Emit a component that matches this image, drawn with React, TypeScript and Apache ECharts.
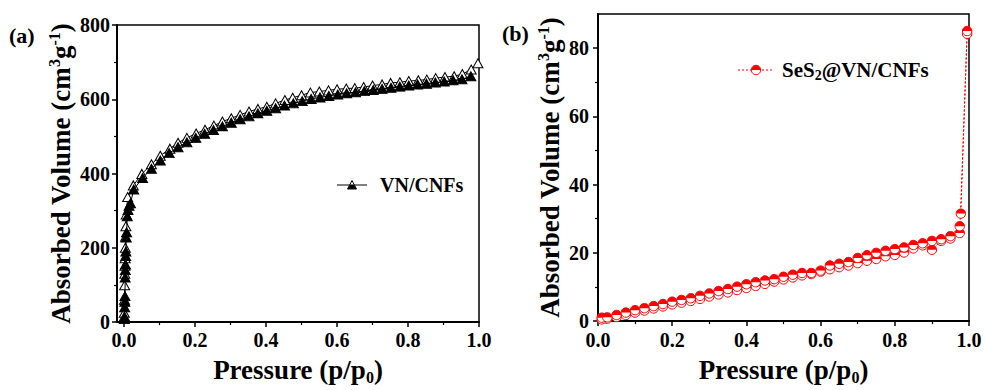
import React, { useEffect, useRef } from 'react';
import * as echarts from 'echarts';

const FONT = '"Liberation Serif", "Times New Roman", Times, serif';
const RED = '#ff0000';
const BLACK = '#000000';

// VN/CNFs isotherm, filled triangles (lower branch)
const vnAdsP = [0.0005, 0.001, 0.0015, 0.002, 0.0025, 0.003, 0.0035, 0.004, 0.0045, 0.005, 0.006, 0.007, 0.009, 0.011, 0.014, 0.018, 0.027, 0.052, 0.077, 0.102, 0.127, 0.152, 0.177, 0.202, 0.227, 0.252, 0.277, 0.302, 0.327, 0.352, 0.377, 0.402, 0.427, 0.452, 0.477, 0.502, 0.527, 0.552, 0.577, 0.602, 0.627, 0.652, 0.677, 0.702, 0.727, 0.752, 0.777, 0.802, 0.827, 0.852, 0.877, 0.902, 0.927, 0.952, 0.977];
const vnAdsV = [8, 15, 40, 55, 70, 120, 140, 155, 178, 190, 228, 242, 285, 302, 313, 320, 357, 388, 413, 435, 455, 471, 484, 496, 507, 517, 527, 537, 546, 554, 562, 569, 576, 583, 589, 595, 601, 605, 609, 613, 616, 619, 622, 625, 628, 631, 634, 637, 640, 642, 645, 648, 651, 654, 662];

// VN/CNFs isotherm, open triangles (upper branch)
const vnDesP = [0.997, 0.978, 0.953, 0.93, 0.904, 0.878, 0.853, 0.829, 0.802, 0.777, 0.751, 0.727, 0.7, 0.675, 0.65, 0.626, 0.6, 0.576, 0.55, 0.525, 0.5, 0.475, 0.453, 0.427, 0.402, 0.377, 0.352, 0.327, 0.302, 0.277, 0.253, 0.228, 0.203, 0.177, 0.152, 0.129, 0.102, 0.077, 0.05, 0.026, 0.01, 0.006, 0.005, 0.004, 0.0035, 0.003, 0.0025, 0.002, 0.0015, 0.001, 0.0005];
const vnDesV = [697, 680, 668, 662, 660, 657, 653, 651, 649, 646, 644, 640, 637, 633, 630, 629, 627, 624, 621, 618, 611, 604, 598, 589, 580, 574, 567, 558, 549, 540, 529, 518, 508, 496, 483, 467, 448, 425, 399, 368, 337, 290, 258, 230, 200, 172, 152, 130, 99, 60, 25];

// SeS2@VN/CNFs isotherm, upper branch
const sesAdsP = [0.01, 0.025, 0.05, 0.075, 0.1, 0.125, 0.15, 0.175, 0.2, 0.225, 0.25, 0.275, 0.3, 0.325, 0.35, 0.375, 0.4, 0.425, 0.45, 0.475, 0.5, 0.525, 0.55, 0.575, 0.6, 0.625, 0.65, 0.675, 0.7, 0.725, 0.75, 0.775, 0.8, 0.825, 0.85, 0.875, 0.9, 0.925, 0.95, 0.975, 0.978, 0.995];
const sesAdsV = [1.0, 1.1, 1.8, 2.5, 3.2, 3.8, 4.4, 5.0, 5.7, 6.2, 6.7, 7.4, 8.1, 8.8, 9.4, 10.1, 10.8, 11.4, 11.9, 12.3, 13.0, 13.6, 14.1, 14.1, 14.8, 16.3, 16.8, 17.3, 18.5, 19.3, 20.0, 20.6, 21.1, 21.6, 22.3, 22.8, 23.5, 24.0, 24.9, 27.8, 31.5, 85.0];

// SeS2@VN/CNFs isotherm, lower branch
const sesDesP = [0.995, 0.975, 0.95, 0.925, 0.9, 0.875, 0.85, 0.825, 0.8, 0.775, 0.75, 0.725, 0.7, 0.675, 0.65, 0.625, 0.6, 0.575, 0.55, 0.525, 0.5, 0.475, 0.45, 0.425, 0.4, 0.375, 0.35, 0.325, 0.3, 0.275, 0.25, 0.225, 0.2, 0.175, 0.15, 0.125, 0.1, 0.075, 0.05, 0.025, 0.01];
const sesDesV = [84.2, 25.8, 24.2, 23.5, 20.9, 22.2, 21.3, 20.1, 19.4, 19.0, 18.2, 17.7, 17.0, 16.3, 15.8, 15.2, 14.5, 13.8, 13.4, 12.8, 12.2, 11.6, 10.9, 10.3, 9.7, 9.1, 8.4, 7.8, 7.2, 6.5, 5.9, 5.4, 4.9, 4.3, 3.7, 3.1, 2.5, 1.8, 1.2, 0.7, 0.5];

const pressureTicks = [0, 0.2, 0.4, 0.6, 0.8, 1.0];
const pressureMinorTicks = [0.1, 0.3, 0.5, 0.7, 0.9];
const volumeTicksB = [0, 20, 40, 60, 80];
const volumeMinorTicksB = [10, 30, 50, 70];

const zip = (xs: number[], ys: number[]) => xs.map((x, i) => [x, ys[i]]);

const tickLabel = {
  color: BLACK,
  fontFamily: FONT,
  fontWeight: 'bold' as const,
  fontSize: 20,
};

const nameStyle = {
  color: BLACK,
  fontFamily: FONT,
  fontWeight: 'bold' as const,
  fontSize: 27,
  lineHeight: 30,
  rich: {
    sup: { fontFamily: FONT, fontWeight: 'bold' as const, fontSize: 16, lineHeight: 12, verticalAlign: 'top' as const, color: BLACK },
    sub: { fontFamily: FONT, fontWeight: 'bold' as const, fontSize: 16, lineHeight: 12, verticalAlign: 'bottom' as const, color: BLACK },
  },
};

const axisLine = { show: true, onZero: false, lineStyle: { color: BLACK, width: 2 } };

// Circle marker with the upper half filled
const halfCircle = (params: any, api: any) => {
  const pt = api.coord([api.value(0), api.value(1)]);
  const r = 4.7;
  return {
    type: 'group',
    children: [
      { type: 'circle', shape: { cx: pt[0], cy: pt[1], r }, style: { fill: '#ffffff', stroke: RED, lineWidth: 1 } },
      { type: 'sector', shape: { cx: pt[0], cy: pt[1], r0: 0, r, startAngle: Math.PI, endAngle: Math.PI * 2 }, style: { fill: RED } },
    ],
  };
};

export default function App() {
  const ref = useRef<HTMLDivElement>(null);

  useEffect(() => {
    if (!ref.current) return;
    const chart = echarts.init(ref.current, undefined, { renderer: 'svg' });

    const option: any = {
      animation: false,
      backgroundColor: '#ffffff',
      textStyle: { fontFamily: FONT },
      grid: [
        { left: 117, top: 25, width: 362, height: 302, show: true, borderColor: BLACK, borderWidth: 1.5 },
        { left: 598, top: 14, width: 371, height: 311, show: true, borderColor: BLACK, borderWidth: 1.5 },
      ],
      xAxis: [
        {
          gridIndex: 0, type: 'value', min: -0.02, max: 1, position: 'bottom',
          axisLine,
          axisTick: { show: true, customValues: pressureTicks, length: 5, lineStyle: { color: BLACK, width: 1.5 } },
          axisLabel: { ...tickLabel, customValues: pressureTicks, margin: 8, formatter: (v: number) => v.toFixed(1) },
          splitLine: { show: false },
          name: 'Pressure (p/p{sub|0})', nameLocation: 'middle', nameGap: 17, nameTextStyle: nameStyle,
        },
        {
          gridIndex: 0, type: 'value', min: -0.02, max: 1, position: 'bottom',
          axisLine: { show: false, onZero: false },
          axisTick: { show: true, customValues: pressureMinorTicks, length: 3, lineStyle: { color: BLACK, width: 1.2 } },
          axisLabel: { show: false },
          splitLine: { show: false },
        },
        {
          gridIndex: 1, type: 'value', min: 0, max: 1, interval: 0.2, position: 'bottom',
          axisLine,
          axisTick: { show: true, length: 5, lineStyle: { color: BLACK, width: 1.5 } },
          minorTick: { show: true, splitNumber: 2, length: 3, lineStyle: { color: BLACK, width: 1.2 } },
          axisLabel: { ...tickLabel, margin: 9, formatter: (v: number) => v.toFixed(1) },
          splitLine: { show: false },
          minorSplitLine: { show: false },
          name: 'Pressure (p/p{sub|0})', nameLocation: 'middle', nameGap: 17, nameTextStyle: nameStyle,
        },
      ],
      yAxis: [
        {
          gridIndex: 0, type: 'value', min: 0, max: 800, interval: 200, position: 'left',
          axisLine,
          axisTick: { show: true, length: 5, lineStyle: { color: BLACK, width: 1.5 } },
          minorTick: { show: true, splitNumber: 2, length: 3, lineStyle: { color: BLACK, width: 1.2 } },
          axisLabel: { ...tickLabel, margin: 7 },
          splitLine: { show: false },
          minorSplitLine: { show: false },
          name: 'Absorbed Volume (cm{sup|3}g{sup|-1})', nameLocation: 'middle', nameGap: 34, nameTextStyle: nameStyle,
        },
        {
          gridIndex: 1, type: 'value', min: 0, max: 90, position: 'left',
          axisLine,
          axisTick: { show: true, customValues: volumeTicksB, length: 5, lineStyle: { color: BLACK, width: 1.5 } },
          axisLabel: { ...tickLabel, customValues: volumeTicksB, margin: 9 },
          splitLine: { show: false },
          name: 'Absorbed Volume (cm{sup|3}g{sup|-1})', nameLocation: 'middle', nameGap: 31, nameTextStyle: nameStyle,
        },
        {
          gridIndex: 1, type: 'value', min: 0, max: 90, position: 'left',
          axisLine: { show: false, onZero: false },
          axisTick: { show: true, customValues: volumeMinorTicksB, length: 3, lineStyle: { color: BLACK, width: 1.2 } },
          axisLabel: { show: false },
          splitLine: { show: false },
        },
      ],
      series: [
        {
          name: 'VN/CNFs desorption', type: 'line', xAxisIndex: 0, yAxisIndex: 0,
          data: zip(vnDesP, vnDesV),
          symbol: 'triangle', symbolSize: [10, 9],
          itemStyle: { color: '#ffffff', borderColor: BLACK, borderWidth: 1 },
          lineStyle: { color: BLACK, width: 1 },
          z: 2,
        },
        {
          name: 'VN/CNFs adsorption', type: 'line', xAxisIndex: 0, yAxisIndex: 0,
          data: zip(vnAdsP, vnAdsV),
          symbol: 'triangle', symbolSize: [10, 9],
          itemStyle: { color: BLACK, borderColor: BLACK, borderWidth: 1 },
          lineStyle: { color: BLACK, width: 1 },
          z: 3,
        },
        {
          name: 'SeS2 desorption line', type: 'line', xAxisIndex: 2, yAxisIndex: 1,
          data: zip(sesDesP, sesDesV), symbol: 'none',
          lineStyle: { color: RED, width: 1, type: [2, 2] }, z: 2,
        },
        {
          name: 'SeS2 adsorption line', type: 'line', xAxisIndex: 2, yAxisIndex: 1,
          data: zip(sesAdsP, sesAdsV), symbol: 'none',
          lineStyle: { color: RED, width: 1, type: [2, 2] }, z: 2,
        },
        {
          name: 'SeS2 desorption', type: 'custom', xAxisIndex: 2, yAxisIndex: 1,
          data: zip(sesDesP, sesDesV), renderItem: halfCircle, encode: { x: 0, y: 1 }, z: 3,
        },
        {
          name: 'SeS2 adsorption', type: 'custom', xAxisIndex: 2, yAxisIndex: 1,
          data: zip(sesAdsP, sesAdsV), renderItem: halfCircle, encode: { x: 0, y: 1 }, z: 4,
        },
      ],
      graphic: [
        { type: 'text', x: 9, y: 35, style: { text: '(a)', fill: BLACK, fontFamily: FONT, fontWeight: 'bold', fontSize: 22, verticalAlign: 'middle' } },
        { type: 'text', x: 502, y: 33, style: { text: '(b)', fill: BLACK, fontFamily: FONT, fontWeight: 'bold', fontSize: 22, verticalAlign: 'middle' } },
        // legend, panel (a)
        { type: 'line', shape: { x1: 337, y1: 185, x2: 367, y2: 185 }, style: { stroke: BLACK, lineWidth: 1 } },
        { type: 'polygon', shape: { points: [[352, 180.5], [347.5, 189], [356.5, 189]] }, style: { fill: '#ffffff', stroke: BLACK, lineWidth: 1 } },
        { type: 'polygon', shape: { points: [[350.2, 184.5], [347.5, 189], [356.5, 189], [353.8, 184.5]] }, style: { fill: BLACK } },
        { type: 'text', x: 380, y: 185, style: { text: 'VN/CNFs', fill: BLACK, fontFamily: FONT, fontWeight: 'bold', fontSize: 20, verticalAlign: 'middle' } },
        // legend, panel (b)
        { type: 'line', shape: { x1: 738, y1: 70, x2: 773, y2: 70 }, style: { stroke: RED, lineWidth: 1, lineDash: [2, 2] } },
        { type: 'circle', shape: { cx: 756, cy: 70, r: 4.7 }, style: { fill: '#ffffff', stroke: RED, lineWidth: 1 } },
        { type: 'sector', shape: { cx: 756, cy: 70, r0: 0, r: 4.7, startAngle: Math.PI, endAngle: Math.PI * 2 }, style: { fill: RED } },
        {
          type: 'text', x: 782, y: 70,
          style: {
            text: 'SeS{sub|2}@VN/CNFs', fill: BLACK, fontFamily: FONT, fontWeight: 'bold', fontSize: 21, lineHeight: 24,
            verticalAlign: 'middle',
            rich: { sub: { fontFamily: FONT, fontWeight: 'bold', fontSize: 14, lineHeight: 9, verticalAlign: 'bottom', fill: BLACK } },
          },
        },
      ],
    };

    chart.setOption(option);
    return () => chart.dispose();
  }, []);

  return <div ref={ref} style={{ position: 'absolute', left: 0, top: 0, width: 985, height: 390 }} />;
}
